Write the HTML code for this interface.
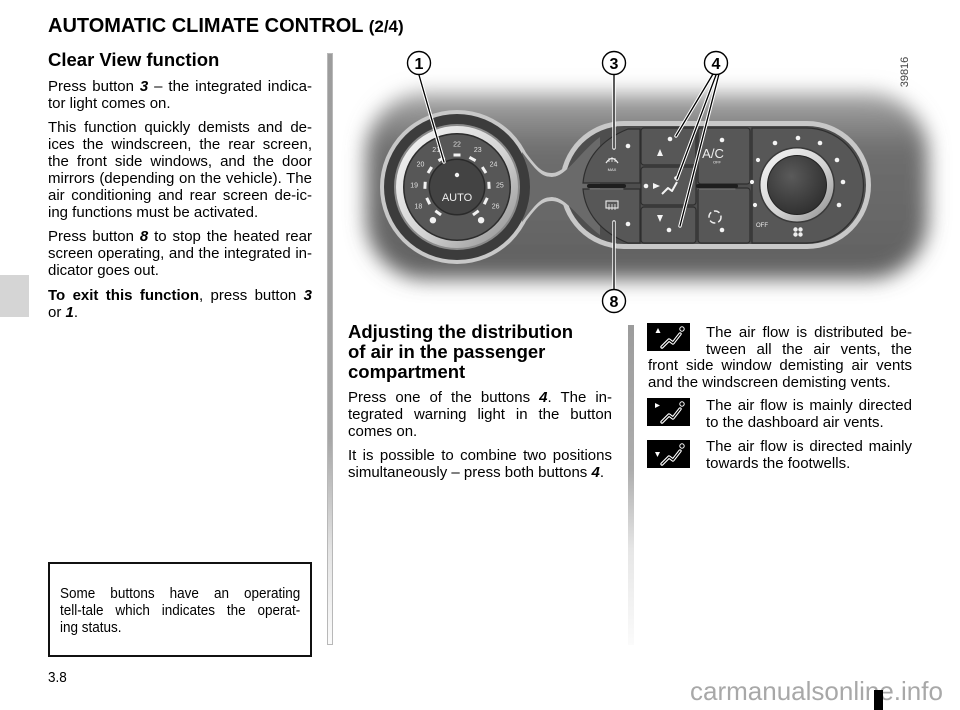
<!DOCTYPE html>
<html><head><meta charset="utf-8">
<style>
html,body{margin:0;padding:0}
body{width:960px;height:710px;position:relative;overflow:hidden;background:#fff;font-family:"Liberation Sans",Arial,sans-serif;color:#000}
.t{position:absolute;font-size:15px;line-height:17px;white-space:nowrap}
.j{text-align:justify;text-align-last:justify}
.L{left:48px;width:264px}
.M{left:348px;width:264px}
.R{left:648px;width:264px}
.Ri{left:706px;width:206px}
.h{font-weight:bold;font-size:18.5px}
.bar{position:absolute;width:6px}
</style></head><body>

<svg width="960" height="710" style="position:absolute;left:0;top:0">
<defs>
<filter id="bl" x="-10%" y="-25%" width="120%" height="150%"><feGaussianBlur stdDeviation="10"/></filter>
<linearGradient id="bgg" x1="0" y1="0" x2="0" y2="1"><stop offset="0" stop-color="#a8a8a8"/><stop offset=".3" stop-color="#6e6e6e"/><stop offset="1" stop-color="#616161"/></linearGradient>
<linearGradient id="chr" x1="0" y1="0" x2="1" y2="1"><stop offset="0" stop-color="#f6f6f6"/><stop offset=".55" stop-color="#d4d4d4"/><stop offset="1" stop-color="#8c8c8c"/></linearGradient>
<radialGradient id="kn" cx=".4" cy=".35" r=".75"><stop offset="0" stop-color="#5a5a5a"/><stop offset="1" stop-color="#2c2c2c"/></radialGradient>
</defs>
<rect x="366" y="93" width="562" height="186" rx="60" fill="url(#bgg)" filter="url(#bl)"/>

<!-- housing outline -->
<g fill="#c8c8c8">
<circle cx="457" cy="187" r="77"/>
<rect x="560" y="121" width="311" height="128" rx="64"/>
<path d="M518,142 C535,165 540,173 552,173 C568,173 585,140 615,121 L615,249 C585,230 568,201 552,201 C540,201 535,209 518,232 Z"/>
</g>
<g fill="#4e4e4e">
<rect x="565" y="126" width="301" height="118" rx="59"/>
<path d="M514,148 C532,169 538,177 552,177 C570,177 588,144 618,126 L618,244 C588,226 570,197 552,197 C538,197 532,205 514,226 Z"/>
</g>
<path d="M522,152 C536,170 541,177 552,177 C566,177 580,152 600,137 L600,235 C580,220 566,197 552,197 C541,197 536,204 522,222 Z" fill="#6a6a6a"/>

<!-- dial -->
<circle cx="457" cy="187" r="73" fill="#3c3c3c"/>
<circle cx="457" cy="187" r="63" fill="#8a8a8a"/>
<circle cx="457" cy="187" r="61" fill="url(#chr)"/>
<circle cx="457" cy="187" r="54" fill="#2c2c2c"/>
<circle cx="457" cy="187" r="52.5" fill="#575757"/>
<g fill="#f2f2f2">
<rect x="453.5" y="153.5" width="7" height="3" transform="rotate(-116 457 187)"/>
<rect x="453.5" y="153.5" width="7" height="3" transform="rotate(-87 457 187)"/>
<rect x="453.5" y="153.5" width="7" height="3" transform="rotate(-58 457 187)"/>
<rect x="453.5" y="153.5" width="7" height="3" transform="rotate(-29 457 187)"/>
<rect x="453.5" y="153.5" width="7" height="3"/>
<rect x="453.5" y="153.5" width="7" height="3" transform="rotate(29 457 187)"/>
<rect x="453.5" y="153.5" width="7" height="3" transform="rotate(58 457 187)"/>
<rect x="453.5" y="153.5" width="7" height="3" transform="rotate(87 457 187)"/>
<rect x="453.5" y="153.5" width="7" height="3" transform="rotate(116 457 187)"/>
<rect x="453.5" y="153.5" width="7" height="3" transform="rotate(-144 457 187)"/>
<rect x="453.5" y="153.5" width="7" height="3" transform="rotate(144 457 187)"/>
<circle cx="432.9" cy="220.2" r="3.2"/>
<circle cx="481.1" cy="220.2" r="3.2"/>
</g>
<g fill="#e0e0e0" font-family="Liberation Sans, Arial, sans-serif" font-size="7" text-anchor="middle">
<text x="418.4" y="208.4">18</text>
<text x="414.1" y="187.3">19</text>
<text x="420.5" y="166.7">20</text>
<text x="436.2" y="151.9">21</text>
<text x="457" y="146.5">22</text>
<text x="477.8" y="151.9">23</text>
<text x="493.5" y="166.7">24</text>
<text x="499.9" y="187.3">25</text>
<text x="495.6" y="208.4">26</text>
</g>
<circle cx="457" cy="187" r="28.5" fill="#2a2a2a"/>
<circle cx="457" cy="187" r="27" fill="#434343"/>
<circle cx="457" cy="175" r="2.2" fill="#f2f2f2"/>
<text x="457" y="201" fill="#eee" font-family="Liberation Sans, Arial, sans-serif" font-size="11" text-anchor="middle">AUTO</text>

<!-- panel buttons -->
<g fill="#575757" stroke="#2e2e2e" stroke-width="1.2">
<path d="M583,183 C585,160 600,140 628,129 L640,129 L640,183 Z"/>
<path d="M583,189 C585,212 600,232 628,243 L640,243 L640,189 Z"/>
<rect x="641" y="128" width="55" height="37" rx="3"/>
<rect x="641" y="167" width="55" height="38" rx="3"/>
<rect x="641" y="207" width="55" height="36" rx="3"/>
<rect x="698" y="128" width="52" height="56" rx="3"/>
<rect x="698" y="188" width="52" height="55" rx="3"/>
<path d="M752,128 L806,128 A57.5,57.5 0 0 1 806,243 L752,243 Z"/>
</g>
<g stroke-linecap="round">
<line x1="589" y1="186" x2="624" y2="186" stroke="#1e1e1e" stroke-width="4"/>
<line x1="590" y1="189" x2="623" y2="189" stroke="#7a7a7a" stroke-width="1"/>
<line x1="698" y1="186" x2="736" y2="186" stroke="#1e1e1e" stroke-width="4"/>
<line x1="699" y1="189" x2="735" y2="189" stroke="#7a7a7a" stroke-width="1"/>
</g>
<!-- knob -->
<circle cx="797" cy="185" r="38" fill="#3a3a3a"/>
<circle cx="797" cy="185" r="36.5" fill="url(#chr)"/>
<circle cx="797" cy="185" r="30" fill="#222"/>
<circle cx="797" cy="185" r="29" fill="url(#kn)"/>
<g fill="#f4f4f4">
<circle cx="775" cy="143" r="2.3"/><circle cx="798" cy="138" r="2.3"/><circle cx="820" cy="143" r="2.3"/>
<circle cx="837" cy="160" r="2.3"/><circle cx="843" cy="182" r="2.3"/><circle cx="839" cy="205" r="2.3"/>
<circle cx="758" cy="160" r="2.1"/><circle cx="752" cy="182" r="2.1"/><circle cx="755" cy="205" r="2.1"/>
<circle cx="628" cy="146" r="2.3"/><circle cx="628" cy="224" r="2.3"/>
<circle cx="670" cy="139" r="2.3"/><circle cx="646" cy="186" r="2.3"/><circle cx="676" cy="178" r="1.8"/><circle cx="669" cy="230" r="2.3"/>
<circle cx="722" cy="140" r="2.3"/><circle cx="722" cy="230" r="2.3"/>
<polygon points="657,156 660,149 663,156"/>
<polygon points="653,183 660,186 653,189"/>
<polygon points="657,215 663,215 660,222"/>
</g>
<polyline points="662,194 668,188 672,191 677,182" fill="none" stroke="#f4f4f4" stroke-width="2" stroke-linejoin="round"/>
<g fill="#eee" font-family="Liberation Sans, Arial, sans-serif" text-anchor="middle">
<text x="713" y="158" font-size="13">A/C</text>
<text x="717" y="163.5" font-size="4">OFF</text>
<text x="612" y="171" font-size="4">MAX</text>
<text x="762" y="227" font-size="6">OFF</text>
</g>
<path d="M606,163 Q612,154 618,163" fill="none" stroke="#eee" stroke-width="1.2"/>
<path d="M609,162 L609,158 M612,162 L612,157 M615,162 L615,158" stroke="#eee" stroke-width="0.8"/>
<rect x="606" y="201" width="12" height="7" fill="none" stroke="#eee" stroke-width="1.1"/>
<path d="M609,204 L609,210 M612,204 L612,210 M615,204 L615,210" stroke="#eee" stroke-width="0.8"/>
<circle cx="715" cy="217" r="6" fill="none" stroke="#eee" stroke-width="1.5" stroke-dasharray="6 3"/>
<g fill="#eee"><circle cx="795.5" cy="229.5" r="2.2"/><circle cx="800.5" cy="229.5" r="2.2"/><circle cx="795.5" cy="234.5" r="2.2"/><circle cx="800.5" cy="234.5" r="2.2"/></g>
<circle cx="798" cy="232" r="1" fill="#555"/>

<!-- leader lines -->
<g stroke-linecap="round" fill="none">
<g stroke="#fff" stroke-width="3.4">
<line x1="419" y1="75" x2="444" y2="162"/>
<line x1="614" y1="75" x2="614" y2="148"/>
<line x1="614" y1="289" x2="614" y2="222"/>
<line x1="713" y1="74" x2="676" y2="136"/>
<line x1="716" y1="75" x2="677" y2="179"/>
<line x1="719" y1="74" x2="680" y2="226"/>
</g>
<g stroke="#000" stroke-width="1.3">
<line x1="419" y1="75" x2="444" y2="162"/>
<line x1="614" y1="75" x2="614" y2="148"/>
<line x1="614" y1="289" x2="614" y2="222"/>
<line x1="713" y1="74" x2="676" y2="136"/>
<line x1="716" y1="75" x2="677" y2="179"/>
<line x1="719" y1="74" x2="680" y2="226"/>
</g>
</g>
<g fill="#fff" stroke="#000" stroke-width="1.4">
<circle cx="419" cy="63" r="11.5"/><circle cx="614" cy="63" r="11.5"/><circle cx="716" cy="63" r="11.5"/><circle cx="614" cy="301" r="11.5"/>
</g>
<g fill="#000" font-family="Liberation Sans, Arial, sans-serif" font-size="16" font-weight="bold" text-anchor="middle">
<text x="419" y="69">1</text><text x="614" y="69">3</text><text x="716" y="69">4</text><text x="614" y="307">8</text>
</g>
<text transform="translate(908,72) rotate(-90)" text-anchor="middle" font-family="Liberation Sans, Arial, sans-serif" font-size="11" fill="#444">39816</text>

<!-- right column icons -->
<rect x="647" y="323" width="43" height="28" fill="#000"/>
<rect x="647" y="398" width="43" height="28" fill="#000"/>
<rect x="647" y="440" width="43" height="28" fill="#000"/>
<g fill="#fff">
<polygon points="655.5,333 658,328 660.5,333"/>
<polygon points="655,403 660,405.5 655,408"/>
<polygon points="655,452 660,452 657.5,457"/>
</g>
<g fill="none" stroke="#fff" stroke-width="1">
<circle cx="682" cy="329" r="2.2"/><circle cx="682" cy="404" r="2.2"/><circle cx="682" cy="446" r="2.2"/>
</g>
<g fill="none" stroke-linecap="round" stroke-linejoin="round">
<path d="M662,347 L669,340 L673,343 L680,334" stroke="#fff" stroke-width="3.4"/>
<path d="M662,347 L669,340 L673,343 L680,334" stroke="#000" stroke-width="1.2"/>
<path d="M662,422 L669,415 L673,418 L680,409" stroke="#fff" stroke-width="3.4"/>
<path d="M662,422 L669,415 L673,418 L680,409" stroke="#000" stroke-width="1.2"/>
<path d="M662,464 L669,457 L673,460 L680,451" stroke="#fff" stroke-width="3.4"/>
<path d="M662,464 L669,457 L673,460 L680,451" stroke="#000" stroke-width="1.2"/>
</g>
</svg>

<!-- separators and tab -->
<div class="bar" style="left:327px;top:53px;height:592px;background:linear-gradient(#9c9c9c 0%,#a6a6a6 65%,#e4e4e4 84%,#fbfbfb 100%);box-shadow:inset 0 0 0 1px #b8b8b8"></div>
<div class="bar" style="left:628px;top:325px;height:320px;background:linear-gradient(#9c9c9c 0%,#adadad 45%,#e6e6e6 70%,#fbfbfb 100%)"></div>
<div style="position:absolute;left:0;top:275px;width:29px;height:42px;background:#d5d5d5"></div>

<!-- left column -->
<div class="t" style="left:48px;top:14px;font-size:20px;line-height:24px;font-weight:bold">AUTOMATIC CLIMATE CONTROL <span style="font-size:17px">(2/4)</span></div>
<div class="t h" style="left:48px;top:49px;line-height:22px">Clear View function</div>
<div class="t L j" style="top:78px">Press button <b><i>3</i></b> – the integrated indica-</div>
<div class="t L" style="top:95px">tor light comes on.</div>
<div class="t L j" style="top:119px">This function quickly demists and de-</div>
<div class="t L j" style="top:136px">ices the windscreen, the rear screen,</div>
<div class="t L j" style="top:153px">the front side windows, and the door</div>
<div class="t L j" style="top:170px">mirrors (depending on the vehicle). The</div>
<div class="t L j" style="top:187px">air conditioning and rear screen de-ic-</div>
<div class="t L" style="top:204px">ing functions must be activated.</div>
<div class="t L j" style="top:228px">Press button <b><i>8</i></b> to stop the heated rear</div>
<div class="t L j" style="top:245px">screen operating, and the integrated in-</div>
<div class="t L" style="top:262px">dicator goes out.</div>
<div class="t L j" style="top:287px"><b>To exit this function</b>, press button <b><i>3</i></b></div>
<div class="t L" style="top:304px">or <b><i>1</i></b>.</div>

<!-- middle column -->
<div class="t M h" style="top:322px;line-height:20px">Adjusting the distribution</div>
<div class="t M h" style="top:342px;line-height:20px">of air in the passenger</div>
<div class="t M h" style="top:362px;line-height:20px">compartment</div>
<div class="t M j" style="top:389px">Press one of the buttons <b><i>4</i></b>. The in-</div>
<div class="t M j" style="top:406px">tegrated warning light in the button</div>
<div class="t M" style="top:423px">comes on.</div>
<div class="t M j" style="top:447px">It is possible to combine two positions</div>
<div class="t M" style="top:464px">simultaneously – press both buttons <b><i>4</i></b>.</div>

<!-- right column -->
<div class="t Ri j" style="top:324px">The air flow is distributed be-</div>
<div class="t Ri j" style="top:341px">tween all the air vents, the</div>
<div class="t R j" style="top:357px">front side window demisting air vents</div>
<div class="t R" style="top:374px">and the windscreen demisting vents.</div>
<div class="t Ri j" style="top:397px">The air flow is mainly directed</div>
<div class="t Ri" style="top:414px">to the dashboard air vents.</div>
<div class="t Ri j" style="top:438px">The air flow is directed mainly</div>
<div class="t Ri" style="top:455px">towards the footwells.</div>

<!-- note box -->
<div style="position:absolute;left:48px;top:562px;width:264px;height:95px;box-sizing:border-box;border:2px solid #111"></div>
<div class="t j" style="left:60px;top:585px;width:267px;transform:scaleX(.9);transform-origin:0 0">Some buttons have an operating</div>
<div class="t j" style="left:60px;top:602px;width:267px;transform:scaleX(.9);transform-origin:0 0">tell-tale which indicates the operat-</div>
<div class="t" style="left:60px;top:619px;transform:scaleX(.9);transform-origin:0 0">ing status.</div>

<!-- footer -->
<div class="t" style="left:48px;top:669px;transform:scaleX(.9);transform-origin:0 0">3.8</div>
<div class="t" style="left:690px;top:678px;font-size:26px;line-height:26px;color:#a8a8a8">carmanualsonline.info</div>
<div style="position:absolute;left:874px;top:690px;width:9px;height:20px;background:#000"></div>
</body></html>
